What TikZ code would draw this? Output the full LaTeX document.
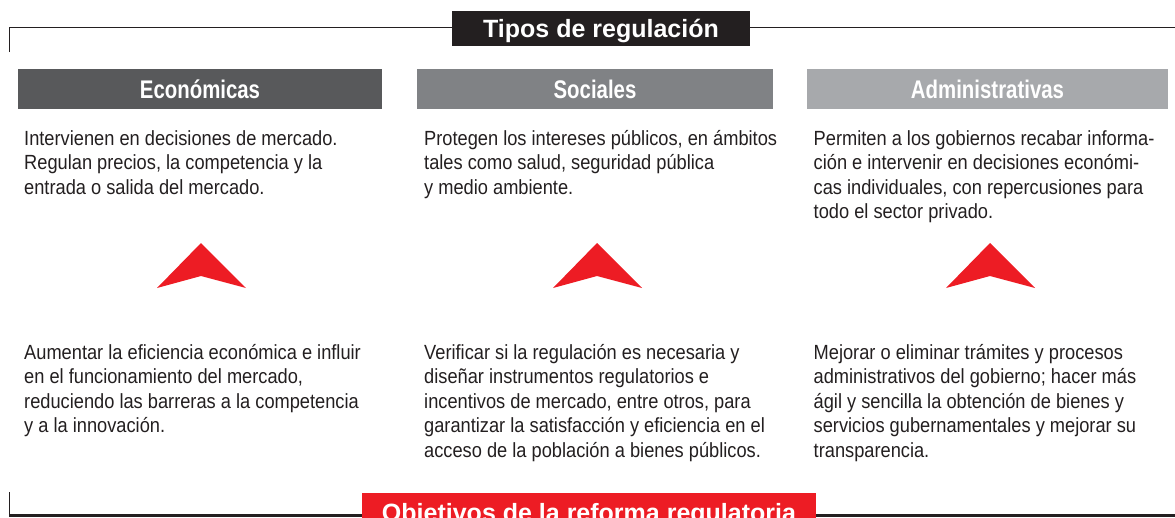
\documentclass[tikz,border=0pt]{standalone}
\usepackage{fontspec}
\setmainfont{Liberation Sans}
\newfontfamily\bodyfont{Liberation Sans}[FakeStretch=0.89]
\newfontfamily\headfont{Liberation Sans}[FakeStretch=0.8]
\definecolor{inkc}{HTML}{231F20}
\definecolor{barone}{HTML}{58595B}
\definecolor{bartwo}{HTML}{808285}
\definecolor{barthree}{HTML}{A7A9AC}
\definecolor{redc}{HTML}{ED1C24}
\newcommand{\linesblock}[1]{\begin{tabular}[t]{@{}l@{}}#1\end{tabular}}
\tikzset{
  frameline/.style={draw=inkc, line width=1pt},
  titlebox/.style={fill=inkc, draw=none, text=white, font=\bfseries\fontsize{25}{30}\selectfont, inner sep=0pt},
  bartext/.style={text=white, font=\headfont\bfseries\fontsize{25.5}{30}\selectfont, inner sep=0pt, anchor=base},
  bodytext/.style={text=inkc, font=\bodyfont\fontsize{20.5}{24.6}\selectfont, inner sep=0pt, anchor=base west},
  chevron/.style={fill=redc, draw=none}
}
\begin{document}
\begin{tikzpicture}[x=1pt,y=-1pt]
\useasboundingbox (0,0) rectangle (1175,517);
\clip (0,0) rectangle (1175,517);
% top frame line
\coordinate (tl) at (9,52);
\coordinate (tc) at (9,27.5);
\coordinate (tr) at (1175,27.5);
\draw[frameline] (tl) -- (tc) -- (tr);
% title box
\fill[inkc] (452,10.7) rectangle (750,46);
\node[titlebox, anchor=base] (title) at (601,37) {Tipos de regulación};
% header bars
\fill[barone] (18,68.5) rectangle (382,109);
\fill[bartwo] (417,68.5) rectangle (773,109);
\fill[barthree] (807,68.5) rectangle (1168,109);
\node[bartext] (h1) at (200,98.5) {Económicas};
\node[bartext] (h2) at (595,98.5) {Sociales};
\node[bartext] (h3) at (987.5,98.5) {Administrativas};
% top texts
\node[bodytext] (t1) at (24,145) {\linesblock{Intervienen en decisiones de mercado.\\Regulan precios, la competencia y la\\entrada o salida del mercado.}};
\node[bodytext] (t2) at (424,145) {\linesblock{Protegen los intereses públicos, en ámbitos\\tales como salud, seguridad pública\\y medio ambiente.}};
\node[bodytext] (t3) at (813.5,145) {\linesblock{Permiten a los gobiernos recabar informa-\\ción e intervenir en decisiones económi-\\cas individuales, con repercusiones para\\todo el sector privado.}};
% chevrons
\foreach \cx in {201,597,990}{
  \fill[chevron] (\cx,243) -- (\cx+45,288) -- (\cx,276) -- (\cx-44,288) -- cycle;
}
% bottom texts
\node[bodytext] (b1) at (24,359) {\linesblock{Aumentar la eficiencia económica e influir\\en el funcionamiento del mercado,\\reduciendo las barreras a la competencia\\y a la innovación.}};
\node[bodytext] (b2) at (424,359) {\linesblock{Verificar si la regulación es necesaria y\\diseñar instrumentos regulatorios e\\incentivos de mercado, entre otros, para\\garantizar la satisfacción y eficiencia en el\\acceso de la población a bienes públicos.}};
\node[bodytext] (b3) at (813.5,359) {\linesblock{Mejorar o eliminar trámites y procesos\\administrativos del gobierno; hacer más\\ágil y sencilla la obtención de bienes y\\servicios gubernamentales y mejorar su\\transparencia.}};
% bottom frame
\coordinate (bl) at (9,492);
\coordinate (bc) at (9,515.5);
\coordinate (br) at (1175,515.5);
\draw[frameline] (bl) -- (bc);
\draw[draw=inkc, line width=2.5pt] (bc) -- (br);
\fill[redc] (362,493) rectangle (816,530);
\node[titlebox, fill=none, anchor=base] (goal) at (589,521) {Objetivos de la reforma regulatoria};
\end{tikzpicture}
\end{document}
